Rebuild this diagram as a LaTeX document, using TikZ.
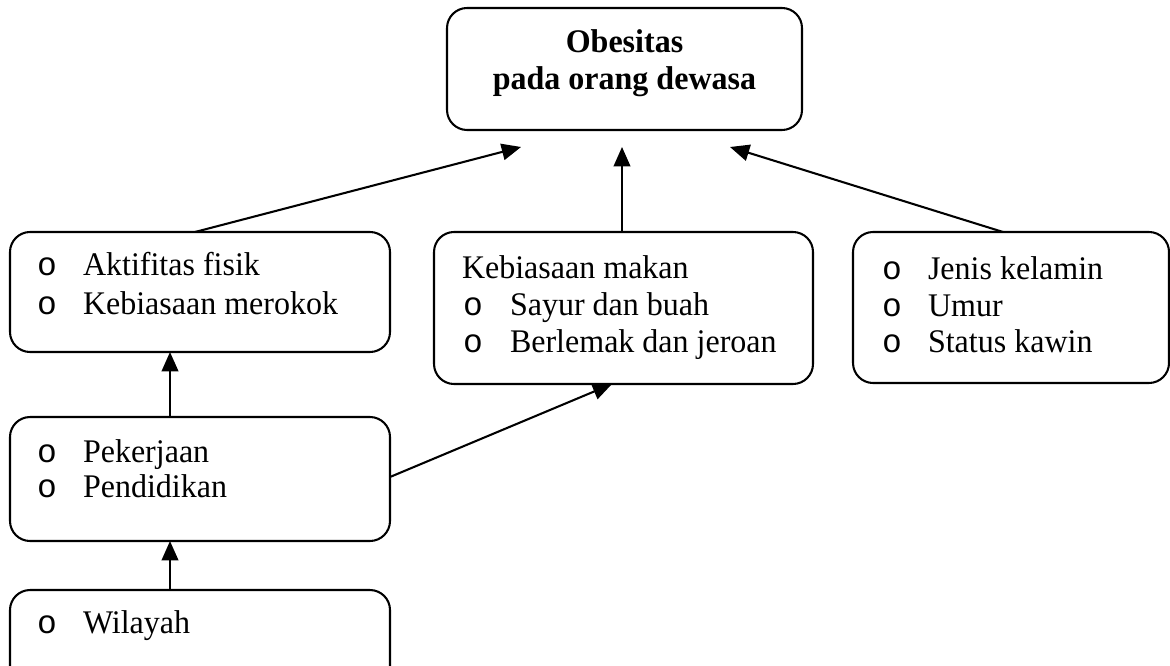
\documentclass[tikz,border=0pt]{standalone}
\usepackage{fontspec}
\setmainfont[FakeStretch=0.97]{Liberation Serif}
\newfontfamily\bulfont{Liberation Mono}
\usetikzlibrary{arrows.meta}
\def\uu{0.3636pt}
\tikzset{
  x=0.3636pt, y=-0.3636pt,
  box/.style={draw, line width=0.75pt, rounded corners=7.3pt, inner sep=0pt, outer sep=0pt, rectangle},
  txt/.style={inner sep=0pt, outer sep=0pt, anchor=base west, font=\fontsize{12}{13.8}\selectfont},
  bul/.style={inner sep=0pt, outer sep=0pt, anchor=base west, font=\fontsize{12}{13.8}\selectfont\bulfont},
  conn/.style={line width=0.75pt, -{Triangle[length=7pt, width=6pt]}},
}
\begin{document}
\begin{tikzpicture}
\clip (0,0) rectangle (1170,665);
\fill[white] (0,0) rectangle (1170,665);

% boxes
\node[box, minimum width=355*\uu, minimum height=122*\uu] (top) at (624.5,69) {};
\node[box, minimum width=380*\uu, minimum height=120*\uu] (aktif) at (200,292) {};
\node[box, minimum width=379*\uu, minimum height=152*\uu] (makan) at (623.5,308) {};
\node[box, minimum width=316*\uu, minimum height=151*\uu] (indiv) at (1011,307.5) {};
\node[box, minimum width=380*\uu, minimum height=124*\uu] (pek) at (200,479) {};
\node[box, minimum width=380*\uu, minimum height=120*\uu] (wil) at (200,650) {};

% top text
\node[inner sep=0pt, anchor=base, font=\fontsize{12}{13.8}\selectfont\bfseries] (t1) at (624.5,53) {Obesitas};
\node[inner sep=0pt, anchor=base, font=\fontsize{12}{13.8}\selectfont\bfseries] (t2) at (624.5,90) {pada orang dewasa};

% left box
\node[bul] (a1b) at (37,276) {o};
\node[txt] (a1) at (83,276) {Aktifitas fisik};
\node[bul] (a2b) at (37,314) {o};
\node[txt] (a2) at (83,314) {Kebiasaan merokok};

% middle box
\node[txt] (m0) at (462,278) {Kebiasaan makan};
\node[bul] (m1b) at (463,315) {o};
\node[txt] (m1) at (510,315) {Sayur dan buah};
\node[bul] (m2b) at (463,352) {o};
\node[txt] (m2) at (510,352) {Berlemak dan jeroan};

% right box
\node[bul] (r1b) at (882,279) {o};
\node[txt] (r1) at (928,279) {Jenis kelamin};
\node[bul] (r2b) at (882,316) {o};
\node[txt] (r2) at (928,316) {Umur};
\node[bul] (r3b) at (882,352) {o};
\node[txt] (r3) at (928,352) {Status kawin};

% pekerjaan box
\node[bul] (p1b) at (37,462) {o};
\node[txt] (p1) at (83,462) {Pekerjaan};
\node[bul] (p2b) at (37,497) {o};
\node[txt] (p2) at (83,497) {Pendidikan};

% wilayah box
\node[bul] (w1b) at (37,633) {o};
\node[txt] (w1) at (83,633) {Wilayah};

% arrow tip coordinates
\coordinate (tipL) at (521,147);
\coordinate (tipM) at (622,147);
\coordinate (tipR) at (730,147);
\coordinate (tipA) at (170,352);
\coordinate (tipP) at (170,541);
\coordinate (tipK) at (612,384);

% connectors
\draw[conn] ([xshift=-5*\uu]aktif.north) -- (tipL);
\draw[conn] ([xshift=-1.5*\uu]makan.north) -- (tipM);
\draw[conn] ([xshift=-8*\uu]indiv.north) -- (tipR);
\draw[conn] ([xshift=-30*\uu]pek.north) -- (tipA);
\draw[conn] ([xshift=-30*\uu]wil.north) -- (tipP);
\draw[conn] ([yshift=2*\uu]pek.east) -- (tipK);
\end{tikzpicture}
\end{document}
